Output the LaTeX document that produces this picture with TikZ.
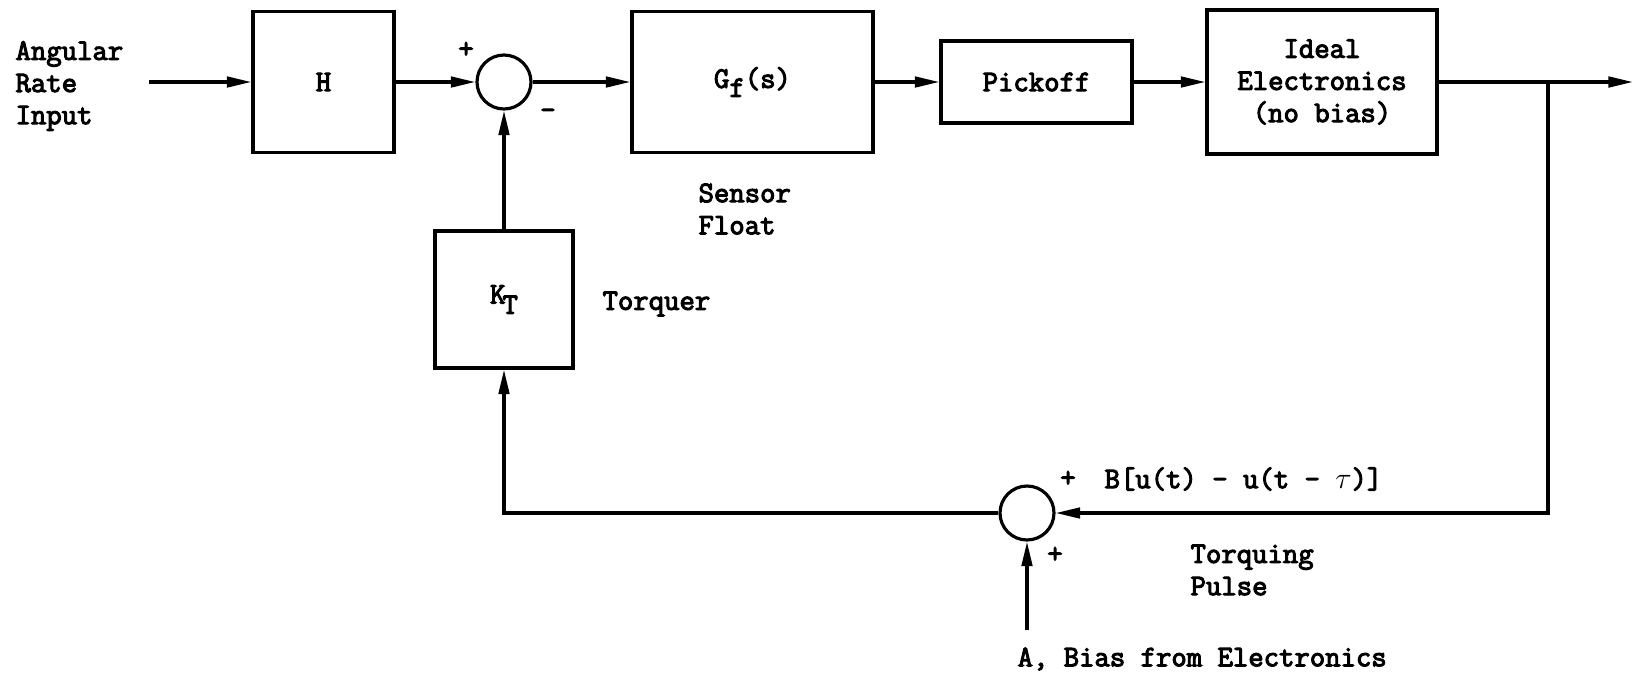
\documentclass[tikz,border=0pt]{standalone}
\usepackage{fontspec}
\newfontfamily\tw{Latin Modern Mono}[FakeBold=3.5]
\usetikzlibrary{arrows.meta}
\begin{document}
\begin{tikzpicture}[x=0.02cm,y=-0.02cm,
  font=\tw\fontsize{17}{18.3}\selectfont,
  line width=1.8pt,
  blk/.style={draw,inner sep=0pt,align=center},
  sumc/.style={draw,circle,minimum size=1.08cm,inner sep=0pt},
  arr/.style={-{Triangle[length=14pt,width=6pt]}},
  lbl/.style={inner sep=0pt}
]
\useasboundingbox (0,0) rectangle (1634,674);

% input text
\node[lbl,anchor=west,align=left] (inp) at (14,86) {Angular\\Rate\\Input};
\coordinate (instart) at (149,82);

% blocks
\node[blk,minimum width=2.82cm,minimum height=2.82cm] (H) at (323.5,82) {H};
\node[sumc] (s1) at (504,82) {};
\node[blk,minimum width=4.82cm,minimum height=2.82cm] (G) at (752.5,82) {G\raisebox{-0.7ex}{f}(s)};
\node[blk,minimum width=3.82cm,minimum height=1.64cm] (P) at (1036.5,82) {Pickoff};
\node[blk,minimum width=4.6cm,minimum height=2.88cm] (E) at (1322,82) {Ideal\\Electronics\\(no bias)};
\node[blk,minimum width=2.76cm,minimum height=2.74cm] (K) at (504,299.5) {K\kern-0.1em\raisebox{-0.8ex}{T}};
\node[sumc] (s2) at (1027,513) {};

\coordinate (out) at (1633,82);
\coordinate (br) at (1548,82);
\coordinate (bias) at (1027,630);

% labels
\node[lbl] (p1) at (466,50) {+};
\node[lbl] (m1) at (548,114) {-};
\node[lbl,anchor=west,align=left] (sf) at (697,209) {Sensor\\Float};
\node[lbl,anchor=west] (tq) at (601,304) {Torquer};
\node[lbl] (p2) at (1068,479) {+};
\node[lbl,anchor=west] (bl) at (1103,479) {B[u(t) - u(t - $\tau$)]};
\node[lbl] (p3) at (1055,555) {+};
\node[lbl,anchor=west,align=left] (tp) at (1189,570) {Torquing\\Pulse};
\node[lbl,anchor=west] (bias lbl) at (1016,659) {A, Bias from Electronics};

% connectors
\draw[arr] (instart) -- (H.west);
\draw[arr] (H.east) -- (s1.west);
\draw[arr] (s1.east) -- (G.west);
\draw[arr] (G.east) -- (P.west);
\draw[arr] (P.east) -- (E.west);
\draw[arr] (E.east) -- (out);
\draw[arr] (br) |- (s2.east);
\draw[arr] (bias) -- (s2.south);
\draw[arr] (s2.west) -| (K.south);
\draw[arr] (K.north) -- (s1.south);
\end{tikzpicture}
\end{document}
